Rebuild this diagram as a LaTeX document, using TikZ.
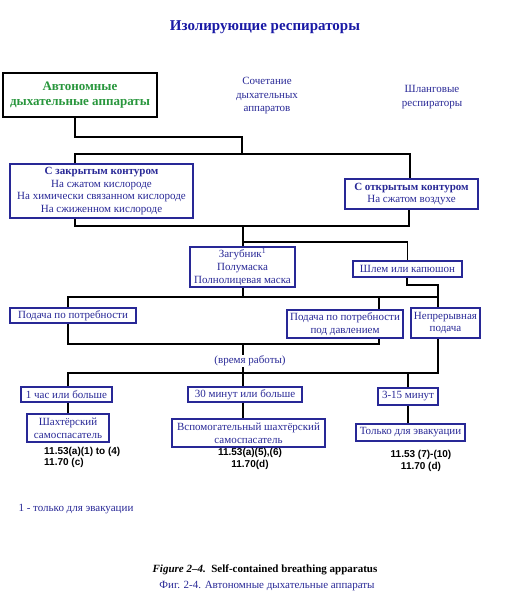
\documentclass[tikz,border=0pt]{standalone}
\usepackage{fontspec}
\setmainfont{Liberation Serif}
\newfontfamily\refsans{Liberation Sans}
\usepackage{xcolor}
\definecolor{txtblue}{RGB}{40,40,150}
\definecolor{ttlblue}{RGB}{25,25,165}
\definecolor{autogreen}{RGB}{40,150,60}
\begin{document}
\begin{tikzpicture}[x=1pt,y=-1pt,
	box/.style={draw=txtblue,line width=1.3pt,text=txtblue,align=center,inner sep=0pt,font=\fontsize{11}{12.8}\selectfont},
	lbl/.style={text=txtblue,align=center,font=\fontsize{11}{13.5}\selectfont},
	link/.style={line width=1.6pt,black},
	ref/.style={font=\refsans\bfseries\fontsize{10}{11.8}\selectfont,align=left,inner sep=0pt}]
				\useasboundingbox (0,0) rectangle (508,600);
				
				\node[lbl,text=ttlblue,font=\bfseries\fontsize{15}{18}\selectfont] (title) at (265,27) {Изолирующие респираторы};
				
				\node[draw,line width=1.8pt,minimum width=154pt,minimum height=44pt,text=autogreen,align=center,font=\bfseries\fontsize{13}{15}\selectfont] (auto) at (80,95) {Автономные\\дыхательные аппараты};
				\node[lbl] (comb) at (267,96) {Сочетание\\дыхательных\\аппаратов};
				\node[lbl] (hose) at (432,97) {Шланговые\\респираторы};
				
				\node[box,minimum width=183pt,minimum height=54pt] (closed) at (101.5,191) {\textbf{С закрытым контуром}\\На сжатом кислороде\\На химически связанном кислороде\\На сжиженном кислороде};
				\node[box,minimum width=133pt,minimum height=30pt] (open) at (411.5,194) {\textbf{С открытым контуром}\\На сжатом воздухе};
				
				\node[box,minimum width=105pt,minimum height=40pt] (mask) at (242.5,267) {Загубник\textsuperscript{1}\\Полумаска\\Полнолицевая маска};
				\node[box,minimum width=109pt,minimum height=16pt] (helmet) at (407.5,269) {Шлем или капюшон};
				
				\node[box,minimum width=126pt,minimum height=15pt] (demand) at (73,315.5) {Подача по потребности};
				\node[box,minimum width=116pt,minimum height=28pt] (pressure) at (345,324) {Подача по потребности\\под давлением};
				\node[box,minimum width=69pt,minimum height=30pt] (contin) at (445.5,323) {Непрерывная\\подача};
				
				\node[lbl,inner sep=1pt] (time) at (250,361) {(время работы)};
				
				\node[box,minimum width=91pt,minimum height=15pt] (hour) at (66.5,394.5) {1 час или больше};
				\node[box,minimum width=114pt,minimum height=15pt] (min30) at (245,394.5) {30 минут или больше};
				\node[box,minimum width=60pt,minimum height=17pt] (min315) at (408,396.5) {3-15 минут};
				
				\node[box,minimum width=82pt,minimum height=28pt] (miner) at (68,428) {Шахтёрский\\самоспасатель};
				\node[box,minimum width=153pt,minimum height=28pt] (aux) at (248.5,433) {Вспомогательный шахтёрский\\самоспасатель};
				\node[box,minimum width=109pt,minimum height=17pt] (evac) at (410.5,432.5) {Только для эвакуации};
				
				\node[ref,anchor=west] (refA) at (44,457.5) {11.53(a)(1) to (4)\\11.70 (c)};
				\node[ref,align=center] (refB) at (250,459) {11.53(a)(5),(6)\\11.70(d)};
				\node[ref,align=center] (refC) at (421,461) {11.53 (7)-(10)\\11.70 (d)};
				
				\node[lbl,anchor=west] (note) at (15,509) {1 - только для эвакуации};
				\node[font=\bfseries\fontsize{11}{13}\selectfont] (figen) at (265,570) {\textit{Figure 2--4.}\ \ Self-contained breathing apparatus};
				\node[lbl] (figru) at (267,586) {Фиг. 2-4. Автономные дыхательные аппараты};
				
				\coordinate (a1) at (75,137);
				\coordinate (a2) at (242,154);
				\coordinate (b1) at (75,154);
				\coordinate (b2) at (410,154);
				\coordinate (c1) at (75,226);
				\coordinate (c2) at (409,226);
				\coordinate (d1) at (243,242);
				\coordinate (e1) at (68,297);
				\coordinate (e2) at (438,297);
				\coordinate (e3) at (407,285);
				\coordinate (f1) at (68,344);
				\coordinate (f2) at (379,344);
				\coordinate (g1) at (68,373);
				\coordinate (g2) at (438,373);
				
				\draw[link] (auto.south -| a1) -- (a1) -| (a2);
				\draw[link] (closed.north -| b1) |- (b2) -- (open.north -| b2);
				\draw[link] (closed.south -| c1) |- (c2) -- (open.south -| c2);
				\draw[link] (mask.north -| d1) -- (d1 |- c1);
				\draw[link] (d1) -| (helmet.north);
				\draw[link] (mask.south -| d1) -- (d1 |- e1);
				\draw[link] (demand.north -| e1) |- (e2) -- (contin.north -| e2);
				\draw[link] (pressure.north -| f2) -- (f2 |- e1);
				\draw[link] (helmet.south -| e3) -- (e3) -| (e2);
				\draw[link] (demand.south -| f1) |- (f2) -- (pressure.south -| f2);
				\draw[link] (d1 |- f1) -- (time.north -| d1);
				\draw[link] (time.south -| d1) -- (d1 |- g1);
				\draw[link] (hour.north -| g1) |- (g2) -- (contin.south -| g2);
				\draw[link] (min30.north -| d1) -- (d1 |- g1);
				\draw[link] (min315.north) -- (min315.north |- g1);
				\draw[link] (hour.south -| g1) -- (miner.north -| g1);
				\draw[link] (min30.south -| d1) -- (aux.north -| d1);
				\draw[link] (min315.south) -- (evac.north -| min315.south);
				
			\end{tikzpicture}
\end{document}
